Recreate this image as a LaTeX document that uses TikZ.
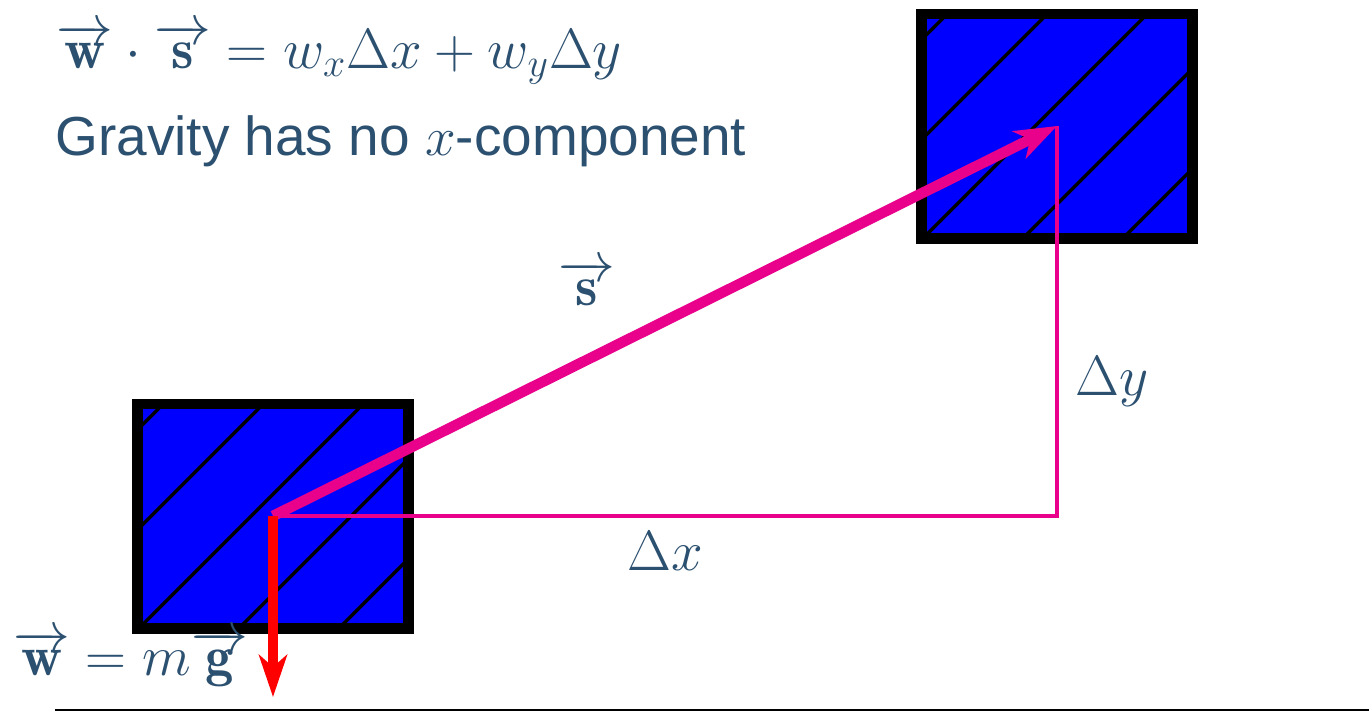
\RequirePackage{fix-cm}
\documentclass[tikz,border=0pt]{standalone}
\usepackage{fontspec}
\newfontfamily\sansf{Liberation Sans}
\usetikzlibrary{arrows.meta,calc}
\definecolor{txt}{RGB}{44,80,112}
\definecolor{pinkc}{RGB}{233,0,139}
\begin{document}
\begin{tikzpicture}[x=0.5pt,y=-0.5pt,
  lbl/.style={text=txt,font=\fontsize{28.4}{33}\selectfont,inner sep=0pt},
  sans/.style={text=txt,font=\fontsize{27.5}{32}\selectfont\sansf,inner sep=0pt},
  block/.style={draw=black,line width=5.25pt,fill=blue,minimum width=135.5pt,minimum height=112.25pt,inner sep=0pt,
    path picture={\foreach \k in {0,...,4}{
      \draw[black,line width=1.75pt]
        ([shift={(13pt+50pt*\k+150pt,150pt)}]path picture bounding box.north west) --
        ([shift={(13pt+50pt*\k-150pt,-150pt)}]path picture bounding box.north west);}}},
  thinpink/.style={draw=pinkc,line width=2.4pt},
  bigpink/.style={draw=pinkc,line width=5.3pt,-{Stealth[length=21pt,width=15pt,inset=6pt]}},
  redarrow/.style={draw=red,line width=5.3pt,-{Stealth[length=21pt,width=14pt,inset=6pt]}}
]
\useasboundingbox (0,0) rectangle (1369,712);
\coordinate (A) at (273,516);
\coordinate (B) at (1057,126);
\coordinate (C) at (1057,516);
\coordinate (G) at (273,697);
\node[block] (box1) at (A) {};
\node[block] (box2) at (B) {};
\draw[thinpink] (A) -- (C) -- (B);
\draw[bigpink] (A) -- (B);
\draw[redarrow] (A) -- (G);
\node[lbl,anchor=base west] (eq) at (56,68) {$\overrightarrow{\mathbf{w}}\cdot\overrightarrow{\mathbf{s}} = w_x\Delta x + w_y\Delta y$};
\node[sans,anchor=base west] (grav) at (55,155) {Gravity has no $x$-component};
\node[lbl,anchor=base] (slbl) at (587,305) {$\overrightarrow{\mathbf{s}}$};
\node[lbl,anchor=base] (dy) at (1112,395) {$\Delta y$};
\node[lbl,anchor=base] (dx) at (665,570) {$\Delta x$};
\node[lbl,anchor=base west] (wmg) at (13,675) {$\overrightarrow{\mathbf{w}} = m\overrightarrow{\mathbf{g}}$};
\coordinate (L1) at (55,710);
\coordinate (L2) at (1369,710);
\draw[line width=1pt] (L1) -- (L2);
\end{tikzpicture}
\end{document}
